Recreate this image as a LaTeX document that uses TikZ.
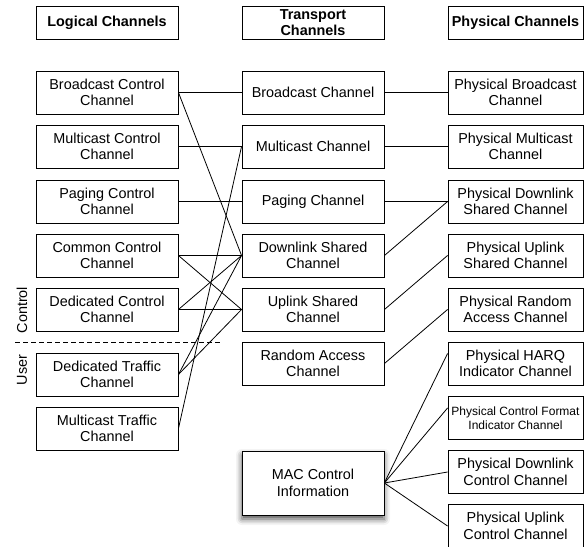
\documentclass[tikz,border=0pt]{standalone}
\usepackage{fontspec}
\setmainfont{Liberation Sans}
\usetikzlibrary{shadows.blur}
\begin{document}
\begin{tikzpicture}[x=1pt,y=-1pt,
  chbox/.style={draw, line width=0.9pt, fill=white, minimum width=142pt,
    minimum height=43pt, inner sep=0pt, align=center,
    font=\fontsize{14.4}{16.5}\selectfont},
  physbox/.style={chbox, minimum width=135pt},
  headbox/.style={chbox, minimum height=33pt,
    font=\fontsize{14.4}{16.5}\selectfont\bfseries},
  smalltext/.style={font=\fontsize{12}{14}\selectfont},
  link/.style={draw, line width=0.8pt},
  grouplabel/.style={rotate=90, font=\fontsize{14.4}{16.5}\selectfont}]
\useasboundingbox (0,0) rectangle (586,546);

% column headers
\node[headbox] (hlog) at (107,22.5) {Logical Channels};
\node[headbox] (htr) at (313,22.5) {Transport\\Channels};
\node[headbox, minimum width=135pt] (hphy) at (515.5,22.5) {Physical Channels};

% logical channels
\node[chbox] (bcch) at (107,92.5) {Broadcast Control\\Channel};
\node[chbox] (mcch) at (107,146.5) {Multicast Control\\Channel};
\node[chbox] (pcch) at (107,201.5) {Paging Control\\Channel};
\node[chbox] (ccch) at (107,255.5) {Common Control\\Channel};
\node[chbox] (dcch) at (107,309.5) {Dedicated Control\\Channel};
\node[chbox] (dtch) at (107,374.5) {Dedicated Traffic\\Channel};
\node[chbox] (mtch) at (107,428.5) {Multicast Traffic\\Channel};

% transport channels
\node[chbox] (bch) at (313,92.5) {Broadcast Channel};
\node[chbox] (mch) at (313,146.5) {Multicast Channel};
\node[chbox] (pch) at (313,201.5) {Paging Channel};
\node[chbox] (dlsch) at (313,255.5) {Downlink Shared\\Channel};
\node[chbox] (ulsch) at (313,309.5) {Uplink Shared\\Channel};
\node[chbox] (rach) at (313,363.5) {Random Access\\Channel};
\node[chbox, minimum height=64pt, line width=0.7pt,
  blur shadow={shadow xshift=0pt, shadow yshift=-4pt, shadow blur radius=6pt,
    shadow opacity=70}] (mac) at (313,483) {MAC Control\\Information};

% physical channels
\node[physbox] (pbch) at (515.5,92.5) {Physical Broadcast\\Channel};
\node[physbox] (pmch) at (515.5,146.5) {Physical Multicast\\Channel};
\node[physbox] (pdsch) at (515.5,201.5) {Physical Downlink\\Shared Channel};
\node[physbox] (pusch) at (515.5,255.5) {Physical Uplink\\Shared Channel};
\node[physbox] (prach) at (515.5,309.5) {Physical Random\\Access Channel};
\node[physbox] (phich) at (515.5,363.5) {Physical HARQ\\Indicator Channel};
\node[physbox, smalltext] (pcfich) at (515.5,418) {Physical Control Format\\Indicator Channel};
\node[physbox] (pdcch) at (515.5,472) {Physical Downlink\\Control Channel};
\node[physbox] (pucch) at (515.5,526) {Physical Uplink\\Control Channel};

% control / user plane split
\coordinate (splitL) at (15,342);
\coordinate (splitR) at (222,342);
\draw[line width=0.8pt, dash pattern=on 5pt off 3pt] (splitL) -- (splitR);
\node[grouplabel] (lctrl) at (22,310) {Control};
\node[grouplabel] (luser) at (22,370) {User};

% logical -> transport
\path[link] (bcch.east) -- (bch.west);
\path[link] (bcch.east) -- (dlsch.west);
\path[link] (mcch.east) -- (mch.west);
\path[link] (pcch.east) -- (pch.west);
\path[link] (ccch.east) -- (dlsch.west);
\path[link] (ccch.east) -- (ulsch.west);
\path[link] (dcch.east) -- (dlsch.west);
\path[link] (dcch.east) -- (ulsch.west);
\path[link] (dtch.east) -- (dlsch.west);
\path[link] (dtch.east) -- (ulsch.west);
\path[link] (mtch.east) -- (mch.west);

% transport -> physical
\path[link] (bch.east) -- (pbch.west);
\path[link] (mch.east) -- (pmch.west);
\path[link] (pch.east) -- (pdsch.west);
\path[link] (dlsch.east) -- (pdsch.west);
\path[link] (ulsch.east) -- (pusch.west);
\path[link] (rach.east) -- (prach.west);

% control information -> physical control channels
\path[link] (mac.east) -- ([yshift=10pt]phich.west);
\path[link] (mac.east) -- ([yshift=10pt]pcfich.west);
\path[link] (mac.east) -- (pdcch.west);
\path[link] (mac.east) -- (pucch.west);
\end{tikzpicture}
\end{document}
